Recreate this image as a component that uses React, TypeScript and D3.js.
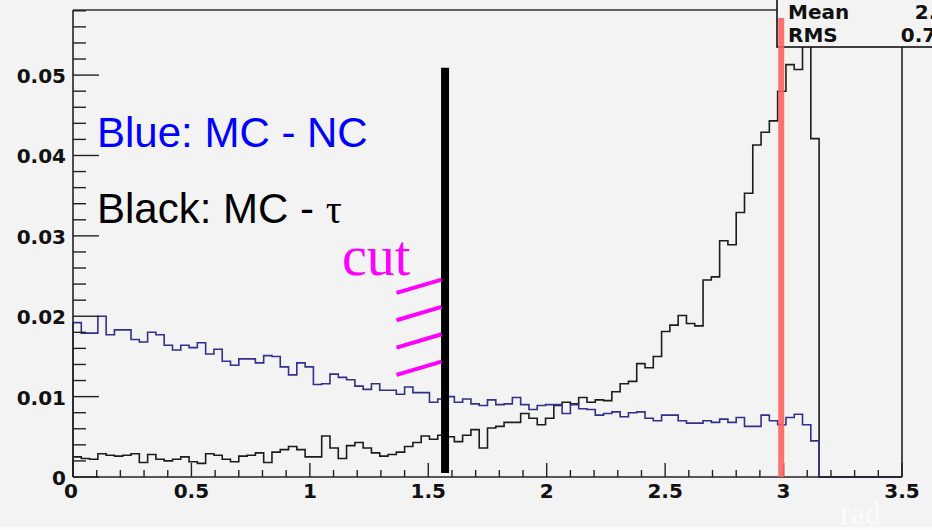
import React from "react";
import * as d3 from "d3";

// Histogram binning: 100 bins over [0, 3.5] rad
const X_MIN = 0;
const X_MAX = 3.5;
const N_BINS = 100;

// MC - tau (black), normalised bin contents
const tauValues = [
  0.0025, 0.0023, 0.0022, 0.0029, 0.0027, 0.0026, 0.0027, 0.0029, 0.0018, 0.0028,
  0.0022, 0.0020, 0.0022, 0.0025, 0.0019, 0.0017, 0.0029, 0.0027, 0.0022, 0.0019,
  0.0026, 0.0027, 0.0030, 0.0018, 0.0031, 0.0034, 0.0038, 0.0034, 0.0025, 0.0025,
  0.0051, 0.0036, 0.0023, 0.0039, 0.0043, 0.0036, 0.0030, 0.0026, 0.0028, 0.0031,
  0.0038, 0.0043, 0.0051, 0.0047, 0.0052, 0.0050, 0.0044, 0.0052, 0.0059, 0.0036,
  0.0061, 0.0063, 0.0068, 0.0068, 0.0079, 0.0073, 0.0065, 0.0073, 0.0089, 0.0093,
  0.0091, 0.0099, 0.0093, 0.0096, 0.0095, 0.0106, 0.0116, 0.0119, 0.0141, 0.0136,
  0.0150, 0.0181, 0.0189, 0.0201, 0.0191, 0.0188, 0.0245, 0.0249, 0.0294, 0.0289,
  0.0329, 0.0353, 0.0413, 0.0429, 0.0443, 0.0480, 0.0513, 0.0507, 0.0570, 0.0421,
  0, 0, 0, 0, 0, 0, 0, 0, 0, 0,
];

// MC - NC (blue), normalised bin contents
const ncValues = [
  0.0192, 0.0179, 0.0179, 0.0200, 0.0177, 0.0183, 0.0183, 0.0171, 0.0168, 0.0180,
  0.0177, 0.0164, 0.0158, 0.0164, 0.0161, 0.0167, 0.0153, 0.0159, 0.0144, 0.0139,
  0.0147, 0.0147, 0.0142, 0.0151, 0.0150, 0.0137, 0.0127, 0.0142, 0.0137, 0.0115,
  0.0116, 0.0128, 0.0124, 0.0121, 0.0113, 0.0109, 0.0116, 0.0108, 0.0108, 0.0103,
  0.0112, 0.0105, 0.0105, 0.0093, 0.0097, 0.0100, 0.0093, 0.0097, 0.0091, 0.0089,
  0.0096, 0.0090, 0.0091, 0.0099, 0.0090, 0.0084, 0.0089, 0.0090, 0.0090, 0.0079,
  0.0090, 0.0085, 0.0084, 0.0077, 0.0079, 0.0081, 0.0075, 0.0080, 0.0081, 0.0073,
  0.0070, 0.0077, 0.0077, 0.0070, 0.0067, 0.0067, 0.0070, 0.0068, 0.0072, 0.0068,
  0.0074, 0.0063, 0.0063, 0.0077, 0.0070, 0.0065, 0.0074, 0.0078, 0.0065, 0.0045,
  0, 0, 0, 0, 0, 0, 0, 0, 0, 0,
];

const xTickLabels = ["0", "0.5", "1", "1.5", "2", "2.5", "3", "3.5"];
const yTickLabels = ["0", "0.01", "0.02", "0.03", "0.04", "0.05"];

// Vertical markers (rad)
const CUT_X = Math.PI / 2;
const REF_X = 2.99;

// Hatching on the rejected side of the cut
const hatchStartY = [0.0229, 0.0195, 0.0161, 0.0127];
const HATCH_X0 = 1.366;
const HATCH_X1 = 1.556;
const HATCH_RISE = 0.00166;

const W = 932;
const H = 530;
const BG = "#f3f3f3";
const TICK_FONT = "'DejaVu Sans', sans-serif";
const TEXT_FONT = "'Liberation Sans', Arial, sans-serif";
const SERIF_FONT = "'Liberation Serif', 'Times New Roman', serif";

export default function App() {
  const x = d3.scaleLinear().domain([X_MIN, X_MAX]).range([73, 902]);
  const y = d3.scaleLinear().domain([0, 0.0581]).range([477, 10]);
  const binW = (X_MAX - X_MIN) / N_BINS;

  const histPath = (values: number[]) => {
    const p = d3.path();
    p.moveTo(x(X_MIN), y(0));
    values.forEach((v, i) => {
      p.lineTo(x(X_MIN + i * binW), y(v));
      p.lineTo(x(X_MIN + (i + 1) * binW), y(v));
    });
    p.lineTo(x(X_MAX), y(0));
    return p.toString();
  };

  // Statistics of the tau histogram (bin centres weighted by contents)
  const centres = tauValues.map((_, i) => X_MIN + (i + 0.5) * binW);
  const sumW = d3.sum(tauValues);
  const mean = d3.sum(tauValues, (w, i) => w * centres[i]) / sumW;
  const rms = Math.sqrt(
    d3.sum(tauValues, (w, i) => w * (centres[i] - mean) ** 2) / sumW
  );

  const xMajor = d3.range(0, 8).map((i) => i * 0.5);
  const xMinor = d3.range(0, 36).map((i) => i * 0.1).filter((_, i) => i % 5 !== 0);
  const yMajor = d3.range(0, 6).map((i) => i * 0.01);
  const yMinor = d3
    .range(0, 30)
    .map((i) => i * 0.002)
    .filter((t, i) => i % 5 !== 0 && t <= 0.0581);

  return (
    <svg
      width={W}
      height={H}
      style={{ position: "absolute", left: 0, top: 0, background: BG }}
    >
      <rect x={0} y={0} width={W} height={H} fill={BG} />
      <rect x={0} y={527} width={W} height={3} fill="#fbfbfb" />

      {/* histograms */}
      <path d={histPath(tauValues)} fill="none" stroke="#1c1c1c" strokeWidth={1.6} />
      <path d={histPath(ncValues)} fill="none" stroke="#30308e" strokeWidth={1.6} />

      {/* frame */}
      <line x1={73} x2={777} y1={10} y2={10} stroke="#333" strokeWidth={1.6} />
      <line x1={902} x2={902} y1={10} y2={477} stroke="#222" strokeWidth={1.6} />
      <line x1={73} x2={73} y1={10} y2={477} stroke="#222" strokeWidth={1.6} />
      <line x1={73} x2={902} y1={477} y2={477} stroke="#222" strokeWidth={1.6} />

      {/* x ticks */}
      {xMajor.map((t) => (
        <line key={"xM" + t} x1={x(t)} x2={x(t)} y1={477} y2={463} stroke="#222" strokeWidth={1.4} />
      ))}
      {xMinor.map((t) => (
        <line key={"xm" + t} x1={x(t)} x2={x(t)} y1={477} y2={470} stroke="#222" strokeWidth={1.4} />
      ))}
      {xMajor.map((t, i) => (
        <text
          key={"xl" + t}
          x={i === 0 ? x(t) - 2 : x(t)}
          y={498}
          textAnchor="middle"
          fontFamily={TICK_FONT}
          fontWeight="bold"
          fontSize={20}
          fill="#111"
        >
          {xTickLabels[i]}
        </text>
      ))}

      {/* y ticks */}
      {yMajor.map((t) => (
        <line key={"yM" + t} x1={73} x2={99} y1={y(t)} y2={y(t)} stroke="#222" strokeWidth={1.4} />
      ))}
      {yMinor.map((t) => (
        <line key={"ym" + t} x1={73} x2={86} y1={y(t)} y2={y(t)} stroke="#222" strokeWidth={1.4} />
      ))}
      {yMajor.map((t, i) => (
        <text
          key={"yl" + t}
          x={66}
          y={y(t) + 8}
          textAnchor="end"
          fontFamily={TICK_FONT}
          fontWeight="bold"
          fontSize={20}
          fill="#111"
        >
          {yTickLabels[i]}
        </text>
      ))}

      {/* cut at pi/2 */}
      <line x1={x(CUT_X)} x2={x(CUT_X)} y1={y(0.0509)} y2={y(0.0005)} stroke="#000" strokeWidth={8} />
      {hatchStartY.map((h, i) => (
        <line
          key={"h" + i}
          x1={x(HATCH_X0)}
          y1={y(h)}
          x2={x(HATCH_X1)}
          y2={y(h + HATCH_RISE)}
          stroke="#ff00ff"
          strokeWidth={4}
        />
      ))}

      {/* annotations */}
      <text x={97} y={147} fontFamily={TEXT_FONT} fontSize={42} fill="#0000ff">
        Blue: MC - NC
      </text>
      <text x={97} y={223} fontFamily={TEXT_FONT} fontSize={42} fill="#000">
        Black: MC -{" "}
        <tspan fontFamily={SERIF_FONT} fontSize={40}>τ</tspan>
      </text>
      <text x={342} y={275} fontFamily={SERIF_FONT} fontSize={56} fill="#ff00ff">
        cut
      </text>

      {/* statistics box */}
      <rect x={777} y={-5} width={200} height={52} fill={BG} stroke="#111" strokeWidth={1.6} />
      <text x={788} y={19} fontFamily={TICK_FONT} fontWeight="bold" fontSize={20} fill="#111">Mean</text>
      <text x={788} y={42} fontFamily={TICK_FONT} fontWeight="bold" fontSize={20} fill="#111">RMS</text>
      <text x={978} y={19} textAnchor="end" fontFamily={TICK_FONT} fontWeight="bold" fontSize={20} fill="#111">
        {mean.toPrecision(4)}
      </text>
      <text x={978} y={42} textAnchor="end" fontFamily={TICK_FONT} fontWeight="bold" fontSize={20} fill="#111">
        {rms.toPrecision(4)}
      </text>

      {/* reference line */}
      <line x1={x(REF_X)} x2={x(REF_X)} y1={18} y2={477} stroke="#ff6464" strokeWidth={6} opacity={0.9} />

      <text x={840} y={524} fontFamily={SERIF_FONT} fontSize={32} fill="#fcfcfc">
        rad
      </text>
    </svg>
  );
}
